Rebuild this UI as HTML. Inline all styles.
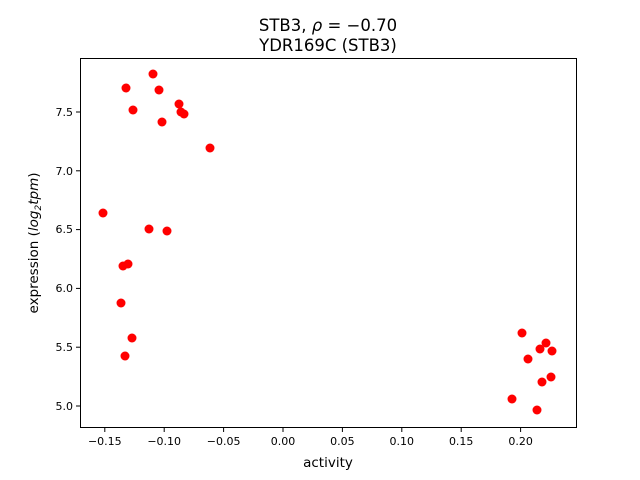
<!DOCTYPE html>
<html><head><meta charset="utf-8"><style>body{margin:0;background:#fff}svg{display:block}text{font-family:"DejaVu Sans","Liberation Sans",sans-serif;fill:#000}</style></head><body>
<svg width="640" height="480" xmlns="http://www.w3.org/2000/svg">
<rect width="640" height="480" fill="#fff"/>
<text x="328" y="31" font-size="16.5" text-anchor="middle">STB3, <tspan font-style="italic">ρ</tspan> = −0.70</text>
<text x="328" y="51" font-size="16.5" text-anchor="middle">YDR169C (STB3)</text>
<g fill="#ff0000">
<circle cx="153" cy="74" r="4.5"/><circle cx="126" cy="88" r="4.5"/><circle cx="159" cy="90" r="4.5"/><circle cx="133" cy="110" r="4.5"/><circle cx="179" cy="104" r="4.5"/><circle cx="181" cy="112" r="4.5"/><circle cx="184" cy="114" r="4.5"/><circle cx="162" cy="122" r="4.5"/><circle cx="210" cy="148" r="4.5"/><circle cx="103" cy="213" r="4.5"/><circle cx="149" cy="229" r="4.5"/><circle cx="167" cy="231" r="4.5"/><circle cx="128" cy="264" r="4.5"/><circle cx="123" cy="266" r="4.5"/><circle cx="121" cy="303" r="4.5"/><circle cx="132" cy="338" r="4.5"/><circle cx="125" cy="356" r="4.5"/><circle cx="522" cy="333" r="4.5"/><circle cx="546" cy="343" r="4.5"/><circle cx="540" cy="349" r="4.5"/><circle cx="552" cy="351" r="4.5"/><circle cx="528" cy="359" r="4.5"/><circle cx="551" cy="377" r="4.5"/><circle cx="542" cy="382" r="4.5"/><circle cx="512" cy="399" r="4.5"/><circle cx="537" cy="410" r="4.5"/>
</g>
<rect x="80.5" y="58.5" width="496" height="369" fill="none" stroke="#000" stroke-width="1"/>
<g stroke="#000" stroke-width="1">
<line x1="104.8" y1="427" x2="104.8" y2="432"/><line x1="164.2" y1="427" x2="164.2" y2="432"/><line x1="223.6" y1="427" x2="223.6" y2="432"/><line x1="283" y1="427" x2="283" y2="432"/><line x1="342.4" y1="427" x2="342.4" y2="432"/><line x1="401.8" y1="427" x2="401.8" y2="432"/><line x1="461.2" y1="427" x2="461.2" y2="432"/><line x1="520.6" y1="427" x2="520.6" y2="432"/>
<line x1="76" y1="406" x2="80" y2="406"/><line x1="76" y1="347.2" x2="80" y2="347.2"/><line x1="76" y1="288.4" x2="80" y2="288.4"/><line x1="76" y1="229.6" x2="80" y2="229.6"/><line x1="76" y1="170.8" x2="80" y2="170.8"/><line x1="76" y1="112" x2="80" y2="112"/>
</g>
<g font-size="11" text-anchor="middle">
<text x="104.8" y="445">−0.15</text><text x="164.2" y="445">−0.10</text><text x="223.6" y="445">−0.05</text><text x="283" y="445">0.00</text><text x="342.4" y="445">0.05</text><text x="401.8" y="445">0.10</text><text x="461.2" y="445">0.15</text><text x="520.6" y="445">0.20</text>
</g>
<g font-size="11" text-anchor="end">
<text x="73" y="410">5.0</text><text x="73" y="351">5.5</text><text x="73" y="292">6.0</text><text x="73" y="233">6.5</text><text x="73" y="175">7.0</text><text x="73" y="116">7.5</text>
</g>
<text x="328" y="467" font-size="13.5" text-anchor="middle">activity</text>
<text transform="translate(38,243) rotate(-90)" font-size="13.5" text-anchor="middle">expression (<tspan font-style="italic">log</tspan><tspan font-size="9" dy="3" font-style="italic">2</tspan><tspan dy="-3" font-style="italic">tpm</tspan>)</text>
</svg>
</body></html>
